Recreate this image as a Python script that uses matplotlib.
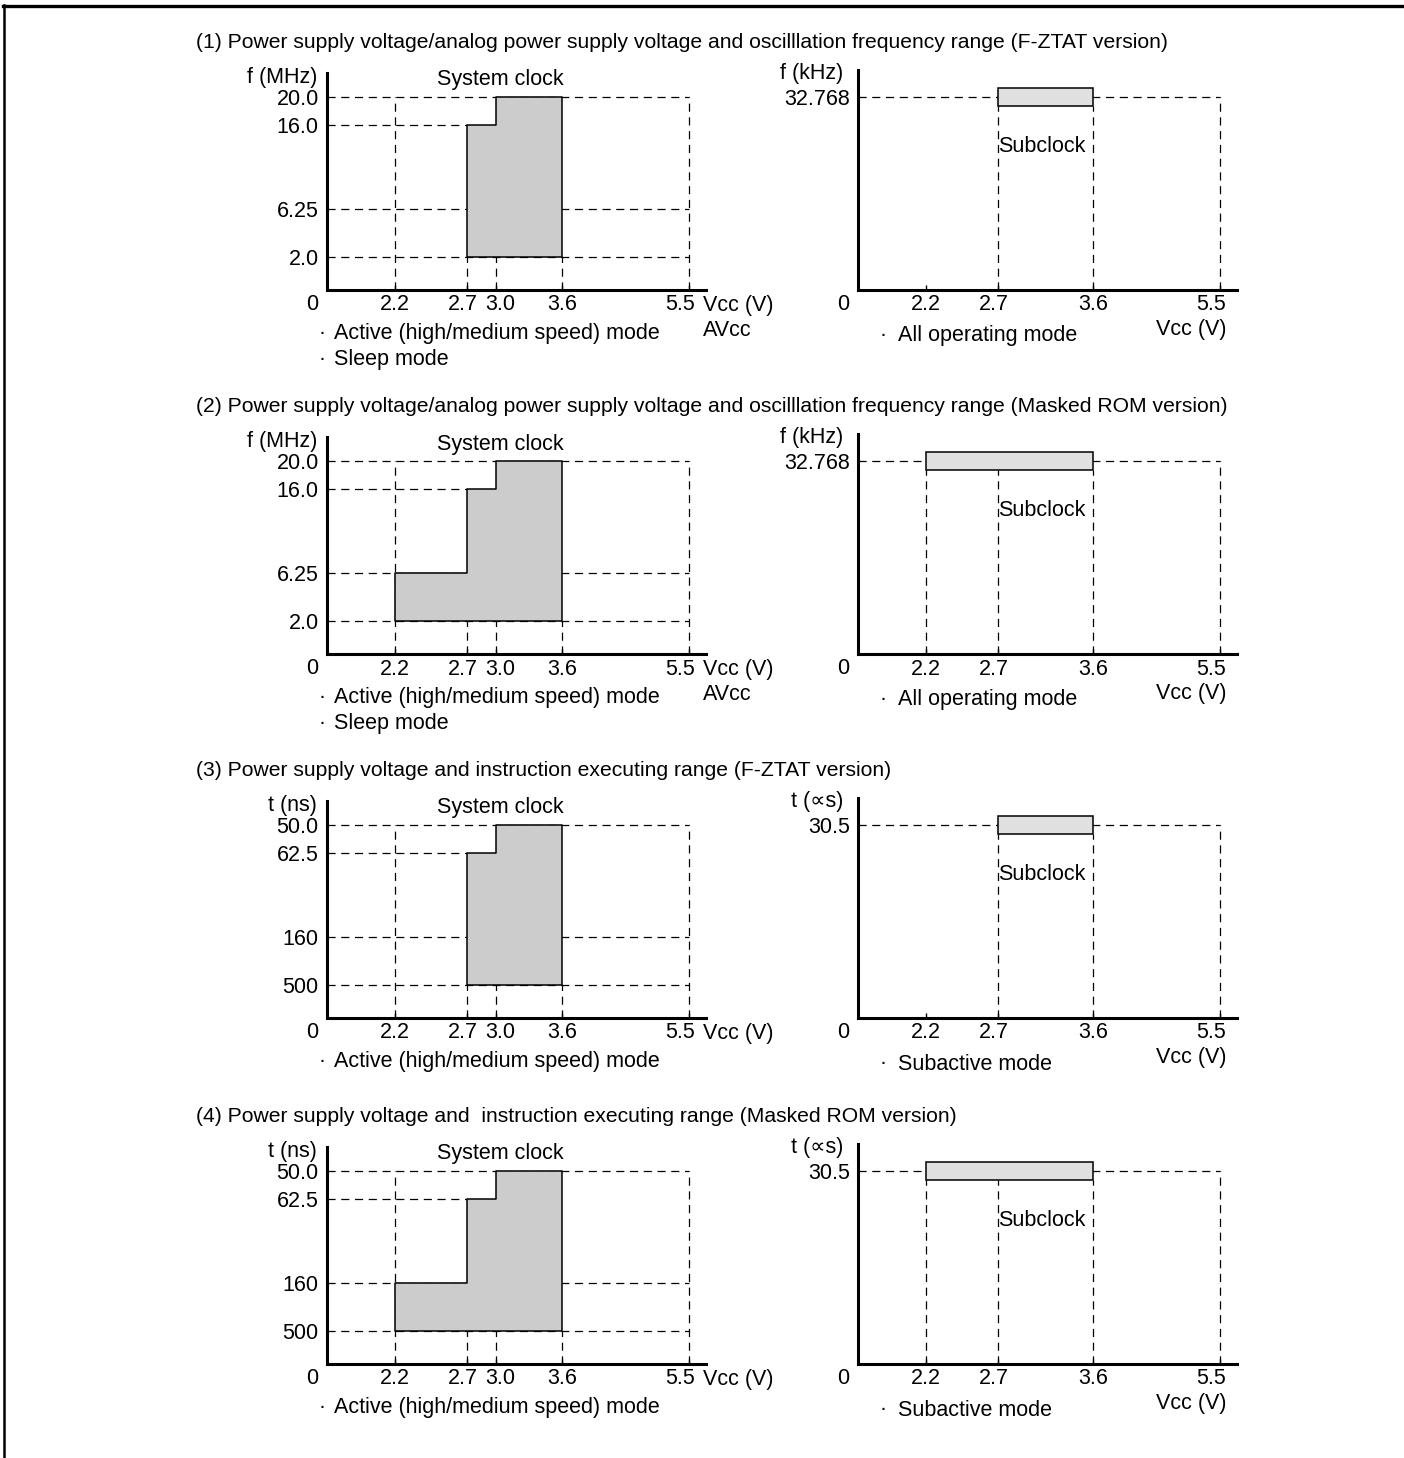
import numpy as np
import matplotlib
matplotlib.use("Agg")
import matplotlib.pyplot as plt
from matplotlib.lines import Line2D

plt.rcParams['font.family'] = ['Liberation Sans', 'DejaVu Sans']

# ---------------- data ----------------
TITLES = [
    "(1) Power supply voltage/analog power supply voltage and oscilllation frequency range (F-ZTAT version)",
    "(2) Power supply voltage/analog power supply voltage and oscilllation frequency range (Masked ROM version)",
    "(3) Power supply voltage and instruction executing range (F-ZTAT version)",
    "(4) Power supply voltage and  instruction executing range (Masked ROM version)",
]
VCC_TICKS_LEFT = [2.2, 2.7, 3.0, 3.6, 5.5]
VCC_LABELS_LEFT = ["2.2", "2.7", "3.0", "3.6", "5.5"]
VCC_TICKS_RIGHT = [2.2, 2.7, 3.6, 5.5]
VCC_LABELS_RIGHT = ["2.2", "2.7", "3.6", "5.5"]
VCC_MAX = 5.5

FREQ_MHZ = [20.0, 16.0, 6.25, 2.0]
FREQ_LABELS = ["20.0", "16.0", "6.25", "2.0"]
TIME_NS = [50.0, 62.5, 160, 500]
TIME_LABELS = ["50.0", "62.5", "160", "500"]

# system-clock operating regions (step edges in Vcc, upper limit per step)
FZTAT_V = [2.7, 3.0, 3.6]
FZTAT_FMAX = [16.0, 20.0]
MASK_V = [2.2, 2.7, 3.0, 3.6]
MASK_FMAX = [6.25, 16.0, 20.0]
F_MIN = 2.0
FZTAT_TMIN = [62.5, 50.0]
MASK_TMIN = [160, 62.5, 50.0]
T_MAX = 500

# subclock
SUB_F_KHZ = 32.768
SUB_T_US = 30.5
SUB_FZTAT_V = [2.7, 3.6]
SUB_MASK_V = [2.2, 3.6]

# ---------------- layout / scales ----------------
W, H = 1404, 1458
fig = plt.figure(figsize=(W / 100, H / 100), dpi=100)

V_KNOTS = [0, 2.2, 2.7, 3.0, 3.6, 5.5, 7.4]
V_POS = [0, 68, 140, 169, 235, 362, 489]
F_KNOTS = [0, 2.0, 6.25, 16.0, 20.0, 30.0]
F_POS = [0, 33, 81, 165, 193, 263]
AX_W, AX_H = 379, 217


def v_fwd(v):
    return np.interp(v, V_KNOTS, V_POS)


def v_inv(p):
    return np.interp(p, V_POS, V_KNOTS)


def f_fwd(f):
    return np.interp(f, F_KNOTS, F_POS)


def f_inv(p):
    return np.interp(p, F_POS, F_KNOTS)


def fx(x):
    return x / W


def fy(y):
    return 1 - y / H


FS = 15.5
FS_TITLE = 15.2
AXIS_LW = 2.2
DASH = dict(color='black', lw=0.9, linestyle=(0, (6.5, 4.5)))

PANEL_Y = [290, 654, 1018, 1364]
LEFT_X, RIGHT_X = 327, 858

panels = [
    dict(kind='f', v=FZTAT_V, top=FZTAT_FMAX, sub=SUB_FZTAT_V,
         bullets_l=["Active (high/medium speed) mode", "Sleep mode"], bullet_r="All operating mode", avcc=True),
    dict(kind='f', v=MASK_V, top=MASK_FMAX, sub=SUB_MASK_V,
         bullets_l=["Active (high/medium speed) mode", "Sleep mode"], bullet_r="All operating mode", avcc=True),
    dict(kind='t', v=FZTAT_V, top=FZTAT_TMIN, sub=SUB_FZTAT_V,
         bullets_l=["Active (high/medium speed) mode"], bullet_r="Subactive mode", avcc=False),
    dict(kind='t', v=MASK_V, top=MASK_TMIN, sub=SUB_MASK_V,
         bullets_l=["Active (high/medium speed) mode"], bullet_r="Subactive mode", avcc=False),
]


def style_axes(ax):
    for s in ['top', 'right']:
        ax.spines[s].set_visible(False)
    for s in ['left', 'bottom']:
        ax.spines[s].set_linewidth(AXIS_LW)
    ax.tick_params(axis='x', direction='in', length=3.5, width=1.0, labelbottom=False)
    ax.tick_params(axis='y', length=0, pad=6, labelsize=FS)
    ax.patch.set_alpha(0)


NUDGE = {"2.7": -4, "3.0": 4, "5.5": -9}

for i, p in enumerate(panels):
    Y0 = PANEL_Y[i]
    fig.text(fx(196), fy(Y0 - 248), TITLES[i], fontsize=FS_TITLE, ha='left', va='center')

    # ---------- left: system clock ----------
    ax = fig.add_axes([fx(LEFT_X), fy(Y0), AX_W / W, AX_H / H])
    ax.set_xscale('function', functions=(v_fwd, v_inv))
    ax.set_yscale('function', functions=(f_fwd, f_inv))
    ax.set_xlim(0, v_inv(AX_W))
    ax.set_ylim(0, f_inv(AX_H))
    style_axes(ax)

    if p['kind'] == 'f':
        levels = FREQ_MHZ
        labels = FREQ_LABELS
        tops = list(p['top'])
        bottom = F_MIN
        ylab = "f (MHz)"
    else:
        levels = [1000.0 / t for t in TIME_NS]
        labels = TIME_LABELS
        tops = [1000.0 / t for t in p['top']]
        bottom = 1000.0 / T_MAX
        ylab = "t (ns)"

    ax.set_yticks(levels, labels)
    ax.set_xticks(VCC_TICKS_LEFT)

    # dashed guide lines
    hl_end = [VCC_MAX, FZTAT_V[0], VCC_MAX, VCC_MAX]
    for lev, xe in zip(levels, hl_end):
        ax.plot([0, xe], [lev, lev], zorder=1, **DASH)
    for v in VCC_TICKS_LEFT:
        ytop = levels[0] if v in (VCC_TICKS_LEFT[0], VCC_MAX) else bottom
        ax.plot([v, v], [0, ytop], zorder=1, **DASH)

    # operating region
    ax.fill_between(p['v'], bottom, tops + [tops[-1]], step='post',
                    facecolor='#cccccc', edgecolor='black', lw=1.1, zorder=3)

    for v, lab in zip(VCC_TICKS_LEFT, VCC_LABELS_LEFT):
        ax.annotate(lab, xy=(v, 0), xycoords=('data', 'axes fraction'),
                    xytext=(NUDGE.get(lab, 0), -15), textcoords='offset pixels',
                    ha='center', va='center', fontsize=FS)

    fig.text(fx(317), fy(Y0 - 213), ylab, fontsize=FS, ha='right', va='center')
    ax.annotate("System clock", xy=(3.0, 0), xycoords=('data', 'axes fraction'),
                xytext=(4, 210), textcoords='offset pixels',
                ha='center', va='center', fontsize=FS)
    fig.text(fx(312), fy(Y0 + 15), "0", fontsize=FS, ha='center', va='center')
    fig.text(fx(703), fy(Y0 + 15), "Vcc (V)", fontsize=FS, ha='left', va='center')
    if p['avcc']:
        fig.text(fx(703), fy(Y0 + 40), "AVcc", fontsize=FS, ha='left', va='center')
    for k, b in enumerate(p['bullets_l']):
        yy = Y0 + 44 + 25 * k
        fig.text(fx(322), fy(yy), "·", fontsize=FS, ha='center', va='center')
        fig.text(fx(334), fy(yy), b, fontsize=FS, ha='left', va='center')

    # ---------- right: subclock ----------
    axr = fig.add_axes([fx(RIGHT_X), fy(Y0), AX_W / W, (AX_H + 3) / H])
    axr.set_xscale('function', functions=(v_fwd, v_inv))
    if p['kind'] == 'f':
        sub = SUB_F_KHZ
        sub_lab = "32.768"
        ylab_r = "f (kHz)"
    else:
        sub = 1000.0 / SUB_T_US
        sub_lab = "30.5"
        ylab_r = "t (\u221ds)"
    axr.set_xlim(0, v_inv(AX_W))
    axr.set_ylim(0, sub * (AX_H + 3) / 193)
    style_axes(axr)
    axr.set_yticks([sub], [sub_lab])
    axr.set_xticks(VCC_TICKS_RIGHT)

    bar_h = sub * 18 / 193
    lo, hi = p['sub']
    axr.plot([0, VCC_MAX], [sub, sub], zorder=1, **DASH)
    for v in VCC_TICKS_RIGHT:
        if v == VCC_MAX:
            axr.plot([v, v], [0, sub], zorder=1, **DASH)
        elif lo <= v <= hi:
            axr.plot([v, v], [0, sub - bar_h / 2], zorder=1, **DASH)
    axr.barh(sub, hi - lo, left=lo, height=bar_h, facecolor='#e0e0e0',
             edgecolor='black', lw=1.1, zorder=3)

    for v, lab in zip(VCC_TICKS_RIGHT, VCC_LABELS_RIGHT):
        axr.annotate(lab, xy=(v, 0), xycoords=('data', 'axes fraction'),
                     xytext=(NUDGE.get(lab, 0), -15), textcoords='offset pixels',
                     ha='center', va='center', fontsize=FS)
    axr.annotate("Subclock", xy=(2.7, 0), xycoords=('data', 'axes fraction'),
                 xytext=(0, 144), textcoords='offset pixels',
                 ha='left', va='center', fontsize=FS)
    fig.text(fx(843), fy(Y0 - 217), ylab_r, fontsize=FS, ha='right', va='center')
    fig.text(fx(843), fy(Y0 + 15), "0", fontsize=FS, ha='center', va='center')
    fig.text(fx(1226), fy(Y0 + 39), "Vcc (V)", fontsize=FS, ha='right', va='center')
    yy = Y0 + 46
    fig.text(fx(883), fy(yy), "·", fontsize=FS, ha='center', va='center')
    fig.text(fx(898), fy(yy), p['bullet_r'], fontsize=FS, ha='left', va='center')

# page frame (top and left rules)
fig.add_artist(Line2D([fx(3), fx(W)], [fy(6), fy(6)], color='black', lw=2.4, transform=fig.transFigure))
fig.add_artist(Line2D([fx(4), fx(4)], [fy(5), fy(H)], color='black', lw=1.8, transform=fig.transFigure))

fig.savefig("out.png", dpi=100)
